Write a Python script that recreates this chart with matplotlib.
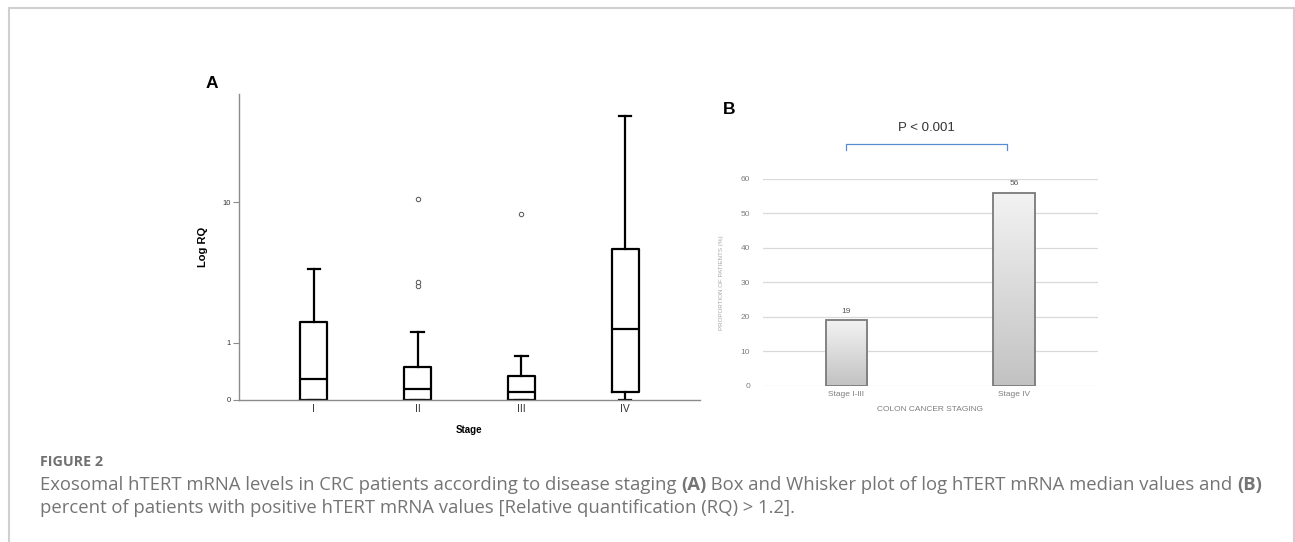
import numpy as np
import matplotlib
matplotlib.use('Agg')
import matplotlib.pyplot as plt
from matplotlib.lines import Line2D

# Panel A: box-and-whisker stats of log RQ by stage
stages = ['I', 'II', 'III', 'IV']
whisker_low = [0, 0, 0, 0]
q1 = [0, 0, 0, 0.10]
medians = [0.29, 0.14, 0.10, 1.38]
q3 = [1.58, 0.49, 0.34, 5.28]
whisker_high = [3.93, 1.29, 0.71, 30.3]
outliers = [[], [2.98, 3.18, 10.4], [8.5], []]
a_ticks = [0, 1, 10]

# Panel B: proportion of positive patients
groups = ['Stage I-III', 'Stage IV']
proportions = [19, 56]
b_ticks = [0, 10, 20, 30, 40, 50, 60]

W, H = 1295, 542
fig = plt.figure(figsize=(W / 100, H / 100), dpi=100)
plt.rcParams['font.family'] = ['Liberation Sans', 'DejaVu Sans']

def fx(px):
    return px / W

def fy(py):
    return 1 - py / H

# frame around the figure
for xs, ys in [([fx(9), fx(1294)], [fy(8), fy(8)]),
               ([fx(9), fx(9)], [fy(8), 0]),
               ([fx(1294), fx(1294)], [fy(8), 0])]:
    fig.add_artist(Line2D(xs, ys, color='#d0d0d0', lw=1.5))

# ---------- Panel A ----------
axA = fig.add_axes([fx(239), fy(400), fx(700 - 239), (400 - 94) / H])
axA.set_yscale('function', functions=(lambda v: np.log10(np.clip(v, -0.999, None) + 1),
                                      lambda v: 10 ** v - 1))
stats = []
for i, s in enumerate(stages):
    stats.append({'label': s, 'whislo': whisker_low[i], 'q1': q1[i], 'med': medians[i],
                  'q3': q3[i], 'whishi': whisker_high[i], 'fliers': outliers[i]})
axA.bxp(stats, positions=range(1, 5), widths=0.26, capwidths=0.12,
        boxprops=dict(color='black', lw=1.6),
        whiskerprops=dict(color='black', lw=1.6),
        capprops=dict(color='black', lw=1.6),
        medianprops=dict(color='black', lw=1.6),
        flierprops=dict(marker='o', markersize=3.2, markerfacecolor='white',
                        markeredgecolor='#555555', markeredgewidth=0.7))
axA.set_xlim(0.28, 4.72)
axA.set_ylim(0, 40)
axA.set_yticks(a_ticks)
axA.set_yticklabels([str(t) for t in a_ticks])
axA.minorticks_off()
for side in ['top', 'right']:
    axA.spines[side].set_visible(False)
for side in ['left', 'bottom']:
    axA.spines[side].set_color('#8c8c8c')
    axA.spines[side].set_linewidth(1.0)
axA.tick_params(axis='y', length=4, width=0.8, color='#8c8c8c', labelsize=5.5, pad=2, labelcolor='#333333')
axA.tick_params(axis='x', length=0, labelsize=7.5, pad=3, labelcolor='#333333')
axA.set_xlabel('Stage', fontsize=7, fontweight='bold', labelpad=8)
axA.set_ylabel('Log RQ', fontsize=8, fontweight='bold', labelpad=10)
fig.text(fx(212), fy(83), 'A', fontsize=12.5, fontweight='bold', ha='center', va='center')

# ---------- Panel B ----------
axB = fig.add_axes([fx(762.7), fy(386), fx(1097.7 - 762.7), (386 - 178.7) / H])
x = np.arange(len(groups))
bars = axB.bar(x, proportions, width=0.25, color='none', edgecolor='#7a7a7a', lw=1.3, zorder=3)
grad = np.linspace(0.95, 0.76, 256).reshape(-1, 1)
for b in bars:
    x0, y0 = b.get_x(), b.get_y()
    im = axB.imshow(grad, extent=[x0, x0 + b.get_width(), y0, y0 + b.get_height()],
                    cmap='gray', vmin=0, vmax=1, aspect='auto', origin='upper', zorder=2)
    im.set_clip_path(b)
for xi, v in zip(x, proportions):
    axB.text(xi, v + 1.5, str(v), ha='center', va='bottom', fontsize=6, color='#595959')
axB.set_xlim(-0.5, 1.5)
axB.set_ylim(0, 60)
axB.set_yticks(b_ticks)
axB.set_xticks(x)
axB.set_xticklabels(groups)
axB.grid(axis='y', color='#d9d9d9', lw=0.9)
axB.set_axisbelow(True)
for s in axB.spines.values():
    s.set_visible(False)
axB.tick_params(length=0, labelsize=6, labelcolor='#7f7f7f')
axB.tick_params(axis='y', pad=9)
axB.set_xlabel('COLON CANCER STAGING', fontsize=6, color='#7f7f7f', labelpad=6)
axB.set_ylabel('PROPORTION OF PATIENTS (%)', fontsize=4.5, color='#a6a6a6', labelpad=12)

# significance bracket
axB.plot([0, 0, 0.96, 0.96], [68.3, 70, 70, 68.3], color='#5b8bd0', lw=0.9, clip_on=False)
axB.text(0.48, 74.8, 'P < 0.001', ha='center', va='center', fontsize=9.5, color='#333333')
fig.text(fx(729), fy(110), 'B', fontsize=12.5, fontweight='bold', ha='center', va='center')

# ---------- Caption ----------
cap_color = '#747474'
cap_font = ['Open Sans', 'DejaVu Sans']
fig.text(fx(40), fy(462), 'FIGURE 2', fontsize=10.3, fontweight='bold', color='#707070',
         family=cap_font, va='center')

line1 = [('Exosomal hTERT mRNA levels in CRC patients according to disease staging ', False),
         ('(A)', True),
         (' Box and Whisker plot of log hTERT mRNA median values and ', False),
         ('(B)', True)]
line2 = [('percent of patients with positive hTERT mRNA values [Relative quantification (RQ) > 1.2].', False)]

def write_line(pieces, x_px, y_px, size):
    renderer = fig.canvas.get_renderer()
    xpos = x_px
    made = []
    for txt, bold in pieces:
        t = fig.text(fx(xpos), fy(y_px), txt, fontsize=size, color=cap_color,
                     fontweight='bold' if bold else 'normal', family=cap_font, va='center')
        made.append(t)
        xpos += t.get_window_extent(renderer).width
    return made, xpos - x_px

# fit the first caption line to the width it has in the figure
trial, width = write_line(line1, 40, 484, 12)
for t in trial:
    t.remove()
cap_size = 12 * 1217 / width
write_line(line1, 40, 485, cap_size)
write_line(line2, 40, 508, cap_size)

fig.savefig('out.png', dpi=100)
